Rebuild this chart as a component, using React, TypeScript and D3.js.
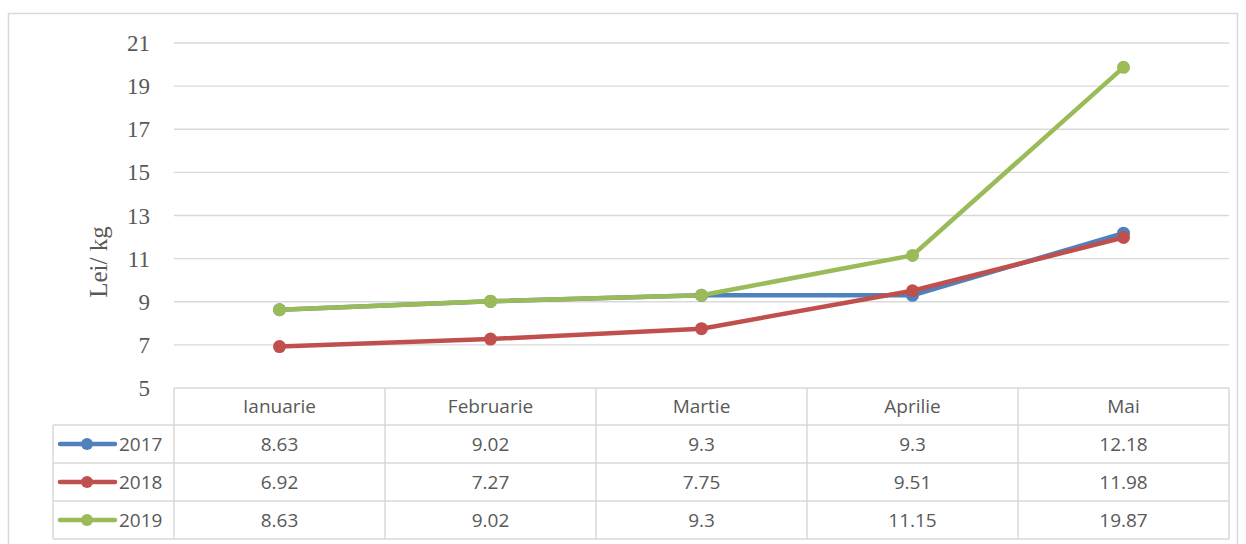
import React from "react";
import * as d3 from "d3";

const categories = ["Ianuarie", "Februarie", "Martie", "Aprilie", "Mai"];
const seriesNames = ["2017", "2018", "2019"];
const values2017 = [8.63, 9.02, 9.3, 9.3, 12.18];
const values2018 = [6.92, 7.27, 7.75, 9.51, 11.98];
const values2019 = [8.63, 9.02, 9.3, 11.15, 19.87];
const valueLabels2017 = ["8.63", "9.02", "9.3", "9.3", "12.18"];
const valueLabels2018 = ["6.92", "7.27", "7.75", "9.51", "11.98"];
const valueLabels2019 = ["8.63", "9.02", "9.3", "11.15", "19.87"];
const yTicks = [5, 7, 9, 11, 13, 15, 17, 19, 21];
const colors = ["#4f81bd", "#c0504d", "#9bbb59"];

export default function App() {
  const W = 1246, H = 544;
  const left = 174, right = 1229;
  const top = 43, bottom = 388;
  const x = d3.scaleBand<string>().domain(categories).range([left, right]);
  const y = d3.scaleLinear().domain([5, 21]).range([bottom, top]);
  const series = [values2017, values2018, values2019];
  const labels = [valueLabels2017, valueLabels2018, valueLabels2019];
  const line = d3.line<number>().x((_, i) => x(categories[i])! + x.bandwidth() / 2).y((d) => y(d));
  const rowTops = [388, 425, 463, 501, 539];
  const tableLeft = 53;
  const grid = "#d9d9d9";
  const txt = "#595959";
  const serif = "'Liberation Serif', 'Times New Roman', serif";
  const tableFont = "'Open Sans', 'Noto Sans', sans-serif";
  const tfs = 19;
  return (
    <svg width={W} height={H} style={{ position: "absolute", left: 0, top: 0 }}>
      <rect x={0} y={0} width={W} height={H} fill="#fff" />
      <rect x={8.5} y={13.5} width={1229} height={540} fill="none" stroke={grid} strokeWidth={1.5} />
      {yTicks.map((t) => (
        <g key={t}>
          {t !== 5 && <line x1={left} x2={right} y1={y(t)} y2={y(t)} stroke={grid} strokeWidth={1.3} />}
          <text x={150} y={y(t)} dy="0.35em" textAnchor="end" fontFamily={serif} fontSize={23} fill={txt}>{t}</text>
        </g>
      ))}
      <text transform={`translate(98,262) rotate(-90)`} textAnchor="middle" dy="0.35em" fontFamily={serif} fontSize={25} fill={txt}>Lei/ kg</text>
      {/* table grid */}
      <g stroke={grid} strokeWidth={1.5} fill="none">
        <line x1={left} x2={right} y1={rowTops[0]} y2={rowTops[0]} />
        {rowTops.slice(1).map((r) => (
          <line key={r} x1={tableLeft} x2={right} y1={r} y2={r} />
        ))}
        <line x1={tableLeft} x2={tableLeft} y1={rowTops[1]} y2={rowTops[4]} />
        {categories.map((c) => (
          <line key={c} x1={x(c)!} x2={x(c)!} y1={rowTops[0]} y2={rowTops[4]} />
        ))}
        <line x1={right} x2={right} y1={rowTops[0]} y2={rowTops[4]} />
      </g>
      {categories.map((c) => (
        <text key={c} x={x(c)! + x.bandwidth() / 2} y={(rowTops[0] + rowTops[1]) / 2} dy="0.35em" textAnchor="middle" fontFamily={tableFont} fontSize={tfs} fill={txt}>{c}</text>
      ))}
      {seriesNames.map((s, si) => {
        const cy = (rowTops[si + 1] + rowTops[si + 2]) / 2;
        return (
          <g key={s}>
            <line x1={60} x2={115} y1={cy} y2={cy} stroke={colors[si]} strokeWidth={4.5} strokeLinecap="round" />
            <circle cx={87} cy={cy} r={6} fill={colors[si]} />
            <text x={119} y={cy} dy="0.35em" fontFamily={tableFont} fontSize={tfs} fill={txt}>{s}</text>
            {labels[si].map((v, i) => (
              <text key={i} x={x(categories[i])! + x.bandwidth() / 2} y={cy} dy="0.35em" textAnchor="middle" fontFamily={tableFont} fontSize={tfs} fill={txt}>{v}</text>
            ))}
          </g>
        );
      })}
      {series.map((vals, si) => (
        <g key={si}>
          <path d={line(vals)!} fill="none" stroke={colors[si]} strokeWidth={4.5} strokeLinejoin="round" strokeLinecap="round" />
          {vals.map((v, i) => (
            <circle key={i} cx={x(categories[i])! + x.bandwidth() / 2} cy={y(v)} r={6.5} fill={colors[si]} />
          ))}
        </g>
      ))}
    </svg>
  );
}
